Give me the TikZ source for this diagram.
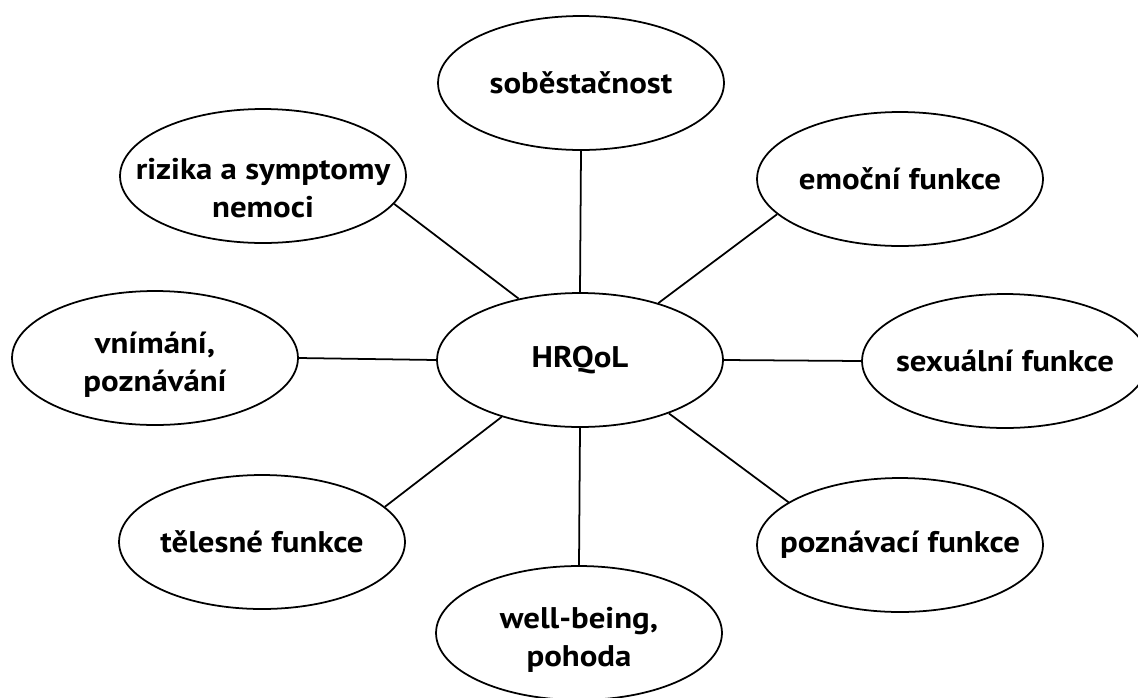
\documentclass[tikz,border=0pt]{standalone}
\usepackage{fontspec}
\setmainfont{PT Sans}[FakeStretch=1.1]
\usetikzlibrary{shapes.geometric}

\begin{document}
\begin{tikzpicture}[
    x=0.02cm, y=-0.02cm,
    topic/.style={ellipse, draw=black, line width=1pt, minimum width=5.72cm, minimum height=2.68cm, inner xsep=-0.8cm, inner ysep=0pt, align=center, font=\fontsize{17}{22}\selectfont\bfseries},
    link/.style={draw=black, line width=1pt}
]
    \useasboundingbox (0,0) rectangle (1138,697);

    \node[topic] (hrqol) at (580,360) {HRQoL};
    \node[topic] (sob) at (581,83) {soběstačnost};
    \node[topic] (rizika) at (263,176) {\rule{0pt}{26pt}rizika a symptomy\\ nemoci};
    \node[topic] (emoc) at (900,179) {emoční funkce};
    \node[topic] (vnim) at (155,358) {\rule{0pt}{20pt}vnímání,\\ poznávání};
    \node[topic] (sex) at (1005,361) {sexuální funkce};
    \node[topic] (teles) at (262,542) {tělesné funkce};
    \node[topic] (pozn) at (900,545) {poznávací funkce};
    \node[topic] (well) at (579,633) {\rule{0pt}{20pt}well-being,\\ pohoda};

    \draw[link] (sob.south) -- (hrqol.north);
    \draw[link] (rizika.-12.5) -- (hrqol.135.5);
    \draw[link] (emoc.196.4) -- (hrqol.36.6);
    \draw[link] (vnim.east) -- (hrqol.west);
    \draw[link] (sex.west) -- (hrqol.east);
    \draw[link] (teles.16.3) -- (hrqol.216.3);
    \draw[link] (pozn.159.2) -- (hrqol.-31);
    \draw[link] (well.north) -- (hrqol.south);
\end{tikzpicture}
\end{document}
